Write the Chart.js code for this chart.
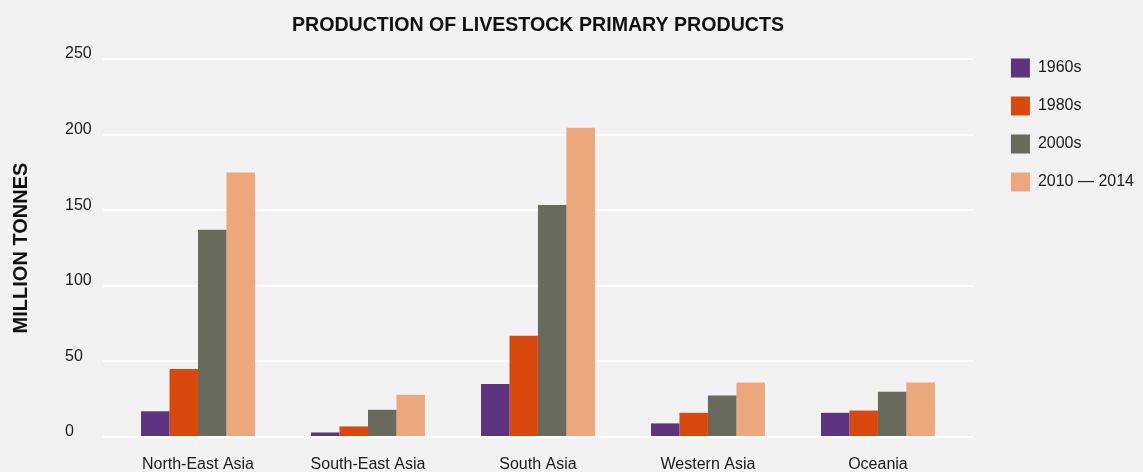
<!DOCTYPE html>
<html>
<head>
<meta charset="utf-8">
<script src="https://cdn.jsdelivr.net/npm/chart.js@4/dist/chart.umd.min.js"></script>
<style>
  html, body { margin: 0; padding: 0; background: #f2f2f2; }
  canvas { display: block; }
</style>
</head>
<body>
<canvas id="livestockChart" width="1143" height="472"></canvas>
<script>
// ---------- Data ----------
const regions = ['North-East Asia', 'South-East Asia', 'South Asia', 'Western Asia', 'Oceania'];
const periods = ['1960s', '1980s', '2000s', '2010 \u2014 2014'];
const v1960s = [17, 3, 35, 9, 16];
const v1980s = [45, 7, 67, 16, 17.5];
const v2000s = [137, 18, 153.5, 27.5, 30];
const v2010s = [175, 28, 204.5, 36, 36];
const yTicks = [0, 50, 100, 150, 200, 250];

const colors = ['#5e3380', '#d9490e', '#686b5c', '#eda77d'];
const FONT = '"Liberation Sans", Arial, Helvetica, sans-serif';
const TEXT = '#1a1a1a';

// ---------- Small layout tweaks ----------
const tweaks = {
  id: 'tweaks',
  afterLayout(chart) {
    // categories sit 10px inside the gridlines on both sides
    const x = chart.scales.x;
    x._startPixel += 10;
    x._endPixel -= 10;
    x._length = x._endPixel - x._startPixel;
    // legend pushed right and up to line up with the top gridline
    const lg = chart.legend;
    lg.left += 19;
    lg.right = chart.width;
    lg.top -= 19.5;
  },
  afterDraw(chart) {
    const {ctx, chartArea} = chart;
    ctx.save();
    ctx.translate(21, (chartArea.top + chartArea.bottom) / 2);
    ctx.rotate(-Math.PI / 2);
    ctx.font = 'bold 20px ' + FONT;
    ctx.fillStyle = '#111';
    ctx.textAlign = 'center';
    ctx.textBaseline = 'middle';
    ctx.fillText('MILLION TONNES', 0, 0);
    ctx.restore();
  }
};

const series = [v1960s, v1980s, v2000s, v2010s];

new Chart(document.getElementById('livestockChart'), {
  type: 'bar',
  data: {
    labels: regions,
    datasets: series.map((vals, i) => ({
      label: periods[i],
      data: vals,
      backgroundColor: colors[i],
      borderWidth: 0,
      categoryPercentage: 0.67,
      barPercentage: 1.0
    }))
  },
  options: {
    responsive: false,
    animation: false,
    devicePixelRatio: 1,
    layout: { padding: { left: 65, right: 18, top: 0, bottom: 0 } },
    plugins: {
      title: {
        display: true,
        fullSize: false,
        text: 'PRODUCTION OF LIVESTOCK PRIMARY PRODUCTS',
        color: '#111',
        font: { family: FONT, size: 19.6, weight: 'bold' },
        padding: { top: 13.6, bottom: 21.9 }
      },
      legend: {
        position: 'right',
        align: 'start',
        fullSize: false,
        labels: {
          boxWidth: 19,
          boxHeight: 19,
          padding: 19,
          color: TEXT,
          font: { family: FONT, size: 16 }
        }
      },
      tooltip: { enabled: false }
    },
    scales: {
      x: {
        grid: { display: false, drawTicks: false },
        border: { display: false },
        ticks: { color: TEXT, padding: 18, font: { family: FONT, size: 16 }, maxRotation: 0 },
        afterFit(s) { s.height = 35; }
      },
      y: {
        min: 0,
        max: 250,
        afterBuildTicks(s) { s.ticks = yTicks.map(v => ({ value: v })); },
        grid: { color: '#ffffff', lineWidth: 2, drawTicks: false },
        border: { display: false },
        ticks: {
          color: TEXT,
          crossAlign: 'far',
          labelOffset: -5,
          padding: 0,
          font: { family: FONT, size: 16 }
        },
        afterFit(s) { s.width = 38; }
      }
    }
  },
  plugins: [tweaks]
});
</script>
</body>
</html>
